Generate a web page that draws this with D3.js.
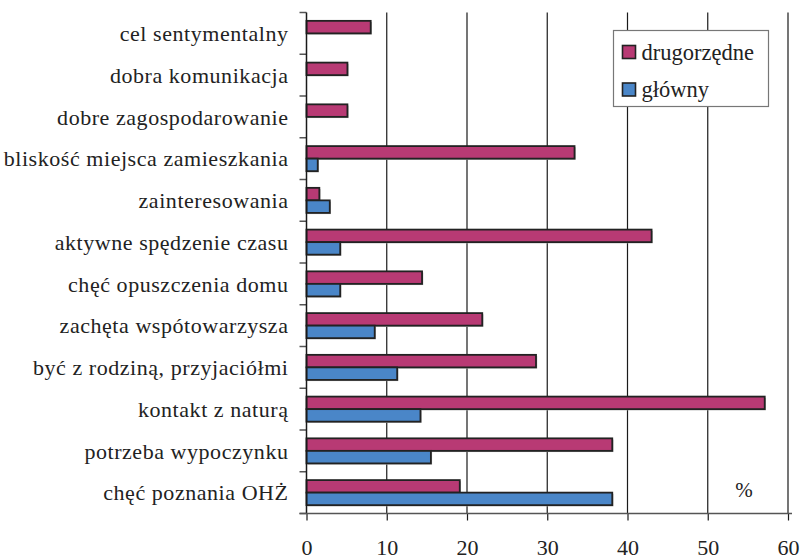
<!DOCTYPE html>
<html>
<head>
<meta charset="utf-8">
<script src="https://cdn.jsdelivr.net/npm/d3@7"></script>
<style>
  body { margin: 0; background: #fff; }
</style>
</head>
<body>
<svg id="chart" width="802" height="560" style="font-family:'Liberation Serif'"></svg>
<script>
// categories top to bottom
var categories = [
  "cel sentymentalny",
  "dobra komunikacja",
  "dobre zagospodarowanie",
  "bliskość miejsca zamieszkania",
  "zainteresowania",
  "aktywne spędzenie czasu",
  "chęć opuszczenia domu",
  "zachęta wspótowarzysza",
  "być z rodziną, przyjaciółmi",
  "kontakt z naturą",
  "potrzeba wypoczynku",
  "chęć poznania OHŻ"
];
var drugorzedne = [8.0, 5.1, 5.1, 33.4, 1.6, 43.0, 14.4, 21.9, 28.6, 57.1, 38.1, 19.1];
var glowny      = [0,   0,   0,   1.4,  2.9, 4.2,  4.2,  8.5,  11.3, 14.2, 15.5, 38.1];
var seriesNames = ["drugorzędne", "główny"];
var seriesColors = ["#b83a74", "#4a86c8"];
var xTicks = [0, 10, 20, 30, 40, 50, 60];

var FONT = "Liberation Serif";

var params = {
  "plot": { "x": 306.5, "y": 12.5, "width": 481.5, "height": 501 }
};

function translate(x, y) { return "translate(" + x + "," + y + ")"; }

var rows = categories.map(function(c, i) {
  return { "cat": c, "values": [drugorzedne[i], glowny[i]] };
});

var scale = {
  "x": d3.scaleLinear().domain([0, 60]).range([0, params.plot.width]),
  "y": d3.scaleBand().domain(categories).range([0, params.plot.height]).paddingInner(0.4).paddingOuter(0.2),
  "yb": d3.scaleBand().domain(categories).range([0, params.plot.height])
};
scale.s = d3.scaleBand().domain([0, 1]).range([0, scale.y.bandwidth()]);

var svg = d3.select("#chart");
var plot = svg.append("g").attr("transform", translate(params.plot.x, params.plot.y));

// grid lines
plot.selectAll("line.grid")
  .data(xTicks.slice(1))
  .enter().append("line")
  .attr("class", "grid")
  .attr("x1", function(d) { return scale.x(d); })
  .attr("x2", function(d) { return scale.x(d); })
  .attr("y1", 0)
  .attr("y2", params.plot.height)
  .attr("stroke", "#1a1a1a")
  .attr("stroke-width", 1.2);

// y axis ticks at band boundaries
var bounds = categories.map(function(c) { return scale.yb(c); }).concat([params.plot.height]);
plot.selectAll("line.ytick")
  .data(bounds)
  .enter().append("line")
  .attr("x1", -7).attr("x2", 0)
  .attr("y1", function(d) { return d; })
  .attr("y2", function(d) { return d; })
  .attr("stroke", "#555")
  .attr("stroke-width", 1.5);

// bars
var groups = plot.selectAll("g.row")
  .data(rows)
  .enter().append("g")
  .attr("class", "row")
  .attr("transform", function(d) { return translate(0, scale.y(d.cat)); });

var cells = groups.selectAll("g.bar")
  .data(function(d) { return d.values.map(function(v, i) { return { "s": i, "value": v }; }); })
  .enter().append("g")
  .attr("class", "bar");

// soft shadow under each bar
cells.filter(function(d) { return d.value > 0; })
  .append("rect")
  .attr("x", 1.2)
  .attr("y", function(d) { return scale.s(d.s) + 1.2; })
  .attr("width", function(d) { return scale.x(d.value); })
  .attr("height", scale.s.bandwidth())
  .attr("fill", "#b5b5b5");

cells.filter(function(d) { return d.value > 0; })
  .append("rect")
  .attr("x", 0)
  .attr("y", function(d) { return scale.s(d.s); })
  .attr("width", function(d) { return scale.x(d.value); })
  .attr("height", scale.s.bandwidth())
  .attr("fill", function(d) { return seriesColors[d.s]; })
  .attr("stroke", "#222")
  .attr("stroke-width", 1.8);

// axis lines
plot.append("line")
  .attr("x1", 0).attr("x2", 0)
  .attr("y1", 0).attr("y2", params.plot.height)
  .attr("stroke", "#1a1a1a").attr("stroke-width", 1.5);

var gx = plot.append("g")
  .attr("transform", translate(0, params.plot.height))
  .call(d3.axisBottom(scale.x).tickValues(xTicks).tickSize(7).tickPadding(19).tickSizeOuter(0));
gx.attr("font-family", FONT);
gx.select(".domain").remove();
gx.selectAll(".tick line").attr("stroke", "#1a1a1a").attr("stroke-width", 1.2);
gx.selectAll(".tick text")
  .attr("font-family", FONT)
  .attr("font-size", 22)
  .attr("fill", "#222");

plot.append("line")
  .attr("x1", -7).attr("x2", params.plot.width + 4)
  .attr("y1", params.plot.height).attr("y2", params.plot.height)
  .attr("stroke", "#555").attr("stroke-width", 1.5);

// category labels
plot.selectAll("text.cat")
  .data(categories)
  .enter().append("text")
  .attr("class", "cat")
  .attr("x", -18)
  .attr("y", function(d) { return scale.yb(d) + scale.yb.bandwidth() / 2; })
  .attr("dy", "0.35em")
  .attr("text-anchor", "end")
  .attr("font-family", FONT)
  .attr("font-size", 22)
  .attr("letter-spacing", 0.55)
  .attr("fill", "#222")
  .text(function(d) { return d; });

// % label
svg.append("text")
  .attr("x", 744).attr("y", 497)
  .attr("text-anchor", "middle")
  .attr("font-family", FONT)
  .attr("font-size", 21)
  .attr("fill", "#222")
  .text("%");

// legend
var legend = svg.append("g").attr("transform", translate(613.5, 30.5));
legend.append("rect")
  .attr("width", 155).attr("height", 76)
  .attr("fill", "#fff").attr("stroke", "#777").attr("stroke-width", 1.2);

var items = legend.selectAll("g.item")
  .data(seriesNames)
  .enter().append("g")
  .attr("transform", function(d, i) { return translate(9, 15 + i * 37.5); });
items.append("rect")
  .attr("width", 13).attr("height", 13)
  .attr("fill", function(d, i) { return seriesColors[i]; })
  .attr("stroke", "#222").attr("stroke-width", 1.6);
items.append("text")
  .attr("x", 19).attr("y", 14)
  .attr("font-family", FONT)
  .attr("font-size", 22.5)
  .attr("fill", "#222")
  .text(function(d) { return d; });
</script>
</body>
</html>
